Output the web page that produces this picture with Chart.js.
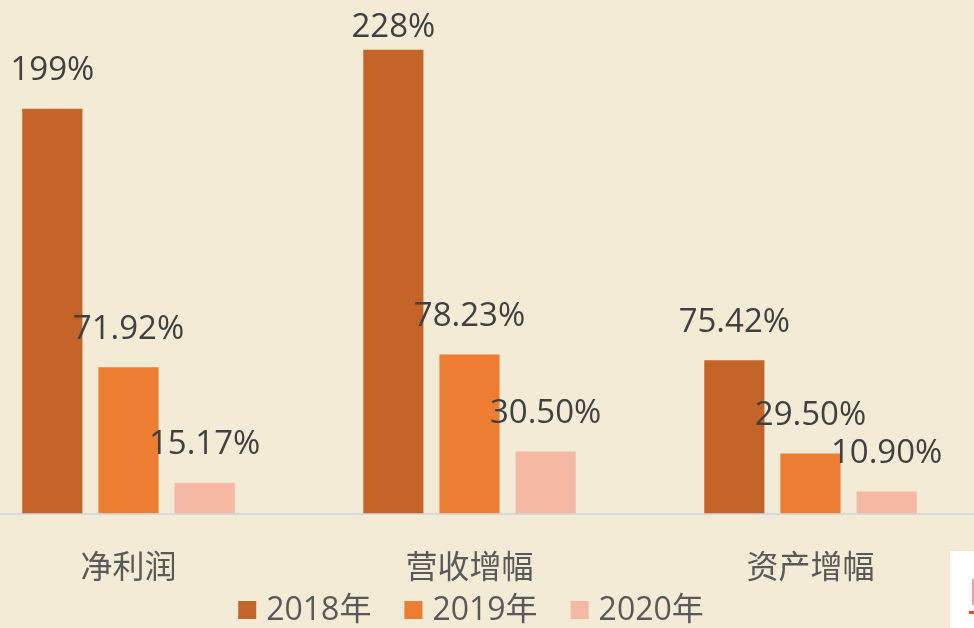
<!DOCTYPE html>
<html><head><meta charset="utf-8">
<script src="https://cdn.jsdelivr.net/npm/chart.js@4/dist/chart.umd.min.js"></script>
<style>
html,body{margin:0;padding:0;background:#F3EBD6;overflow:hidden;width:974px;height:628px;}
#wrap{position:absolute;left:-42px;top:0;width:1023px;height:628px;}
#deco{position:absolute;left:950px;top:551px;width:30px;height:80px;background:#fff;}
#deco .v{position:absolute;left:22px;top:28px;width:2px;height:26px;background:#F2A0A0;}
#deco .h{position:absolute;left:19px;top:60px;width:8px;height:3px;background:#E84A3A;}
</style></head>
<body>
<div id="wrap"><canvas id="c" width="1023" height="628"></canvas></div>
<div id="deco"><div class="v"></div><div class="h"></div></div>
<script>
const categories = ['净利润', '营收增幅', '资产增幅'];
const seriesNames = ['2018年', '2019年', '2020年'];
const values2018 = [199, 228, 75.42];
const values2019 = [71.92, 78.23, 29.50];
const values2020 = [15.17, 30.50, 10.90];
const labels2018 = ['199%', '228%', '75.42%'];
const labels2019 = ['71.92%', '78.23%', '29.50%'];
const labels2020 = ['15.17%', '30.50%', '10.90%'];
const colors = ['#C46428', '#ED7D31', '#F4B8A5'];

const FONT = '"Open Sans", "Noto Sans CJK SC", sans-serif';
const allLabels = [labels2018, labels2019, labels2020];

const labelPlugin = {
  id: 'barLabels',
  afterDatasetsDraw(chart) {
    const ctx = chart.ctx;
    ctx.save();
    ctx.font = '33px ' + FONT;
    ctx.fillStyle = '#404040';
    ctx.textAlign = 'center';
    ctx.textBaseline = 'middle';
    chart.data.datasets.forEach((ds, i) => {
      const meta = chart.getDatasetMeta(i);
      meta.data.forEach((bar, j) => {
        ctx.fillText(allLabels[i][j], bar.x, Math.max(bar.y - 38, 28));
      });
    });
    ctx.restore();
  }
};

const legendPlugin = {
  id: 'customLegend',
  afterDraw(chart) {
    const ctx = chart.ctx;
    ctx.save();
    ctx.font = '32px ' + FONT;
    ctx.textBaseline = 'middle';
    ctx.textAlign = 'left';
    const box = 18, gapText = 10, gapItem = 33;
    const items = chart.data.datasets.map(ds => ({label: ds.label, color: ds.backgroundColor, w: ctx.measureText(ds.label).width}));
    const total = items.reduce((s, it) => s + box + gapText + it.w, 0) + gapItem * (items.length - 1);
    let x = 513 - total / 2;
    const cy = 610;
    items.forEach(it => {
      ctx.fillStyle = it.color;
      ctx.fillRect(x, cy - box / 2, box, box);
      ctx.fillStyle = '#595959';
      ctx.fillText(it.label, x + box + gapText, cy + 1);
      x += box + gapText + it.w + gapItem;
    });
    ctx.restore();
  }
};

new Chart(document.getElementById('c'), {
  type: 'bar',
  data: {
    labels: categories,
    datasets: [
      {label: seriesNames[0], data: values2018, backgroundColor: colors[0]},
      {label: seriesNames[1], data: values2019, backgroundColor: colors[1]},
      {label: seriesNames[2], data: values2020, backgroundColor: colors[2]}
    ]
  },
  options: {
    responsive: false,
    animation: false,
    layout: {padding: {top: 5, left: 0, right: 0, bottom: 4}},
    datasets: {bar: {barPercentage: 0.79, categoryPercentage: 0.67}},
    scales: {
      x: {
        grid: {display: false, drawTicks: false},
        border: {display: true, color: '#D9D9D9', width: 2},
        ticks: {color: '#595959', font: {size: 32, family: FONT}, padding: 36}
      },
      y: {display: false, min: 0, max: 250}
    },
    plugins: {
      legend: {display: false},
      tooltip: {enabled: false}
    }
  },
  plugins: [labelPlugin, legendPlugin]
});
</script>
</body></html>
